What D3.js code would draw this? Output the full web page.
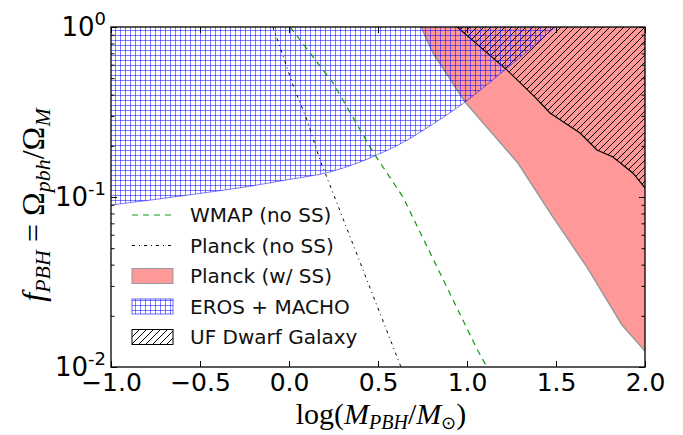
<!DOCTYPE html>
<html><head><meta charset="utf-8">
<script src="https://cdn.jsdelivr.net/npm/d3@7"></script>
<style>body{margin:0;background:#fff}</style>
</head><body>
<svg id="c" width="683" height="435"></svg>
<script>
// ---------- data ----------
const xTickValues = [-1.0, -0.5, 0.0, 0.5, 1.0, 1.5, 2.0];
const xTickLabels = ["\u22121.0", "\u22120.5", "0.0", "0.5", "1.0", "1.5", "2.0"];
const yTickValues = [1, 0.1, 0.01];
const yTickExponents = ["0", "-1", "-2"];
const yMinorTicks = [0.02,0.03,0.04,0.05,0.06,0.07,0.08,0.09,0.2,0.3,0.4,0.5,0.6,0.7,0.8,0.9];

// EROS + MACHO lower boundary
const erosX = [-1.0, -0.753, -0.5, -0.247, 0.0, 0.230, 0.371, 0.494, 0.624, 0.792, 0.989, 1.185, 1.354, 1.494];
const erosF = [0.0897, 0.0967, 0.105, 0.1145, 0.1268, 0.1403, 0.1564, 0.1767, 0.2050, 0.2617, 0.3622, 0.5292, 0.7425, 1.0];
// Planck (w/ SS) lower boundary
const planckSSX = [0.742, 0.809, 0.989, 1.287, 1.483, 1.674, 1.871, 2.0];
const planckSSF = [1.0, 0.703, 0.362, 0.158, 0.0762, 0.0387, 0.01766, 0.0124];
// UF Dwarf Galaxy lower boundary
const ufX = [0.945, 1.225, 1.382, 1.466, 1.635, 1.730, 1.820, 1.933, 2.0];
const ufF = [1.0, 0.558, 0.387, 0.312, 0.238, 0.189, 0.172, 0.138, 0.113];
// WMAP (no SS)
const wmapX = [0.006, 0.247, 0.472, 0.64, 1.056, 1.112];
const wmapF = [1.0, 0.469, 0.184, 0.100, 0.01277, 0.01];
// Planck (no SS)
const planckX = [-0.09, -0.039, 0.022, 0.101, 0.174, 0.247, 0.416, 0.629];
const planckF = [1.0, 0.703, 0.456, 0.284, 0.165, 0.1057, 0.0372, 0.01];

const legendLabels = ["WMAP (no SS)", "Planck (no SS)", "Planck (w/ SS)", "EROS + MACHO", "UF Dwarf Galaxy"];

// ---------- setup ----------
const svg = d3.select("#c");
const L = 111, R = 645, T = 27, B = 367;
const x = d3.scaleLinear().domain([-1, 2]).range([L, R]);
const y = d3.scaleLog().domain([0.01, 1]).range([B, T]);
const zip = (xs, fs) => xs.map((v, i) => [v, fs[i]]);

const defs = svg.append("defs");
defs.append("clipPath").attr("id", "clip").append("rect")
  .attr("x", L).attr("y", T).attr("width", R - L).attr("height", B - T);
const grid = defs.append("pattern").attr("id", "grid").attr("patternUnits", "userSpaceOnUse")
  .attr("width", 5).attr("height", 5);
grid.append("path").attr("d", "M0,0.5H5M0.5,0V5").attr("stroke", "blue")
  .attr("stroke-opacity", 0.5).attr("stroke-width", 1).attr("fill", "none");
const hatch = defs.append("pattern").attr("id", "hatch").attr("patternUnits", "userSpaceOnUse")
  .attr("width", 7).attr("height", 7);
hatch.append("path").attr("d", "M-1,1l2,-2M0,7l7,-7M6,8l2,-2").attr("stroke", "#000")
  .attr("stroke-width", 1).attr("fill", "none");

const line = d3.line().x(d => x(d[0])).y(d => y(d[1]));

const plot = svg.append("g").attr("clip-path", "url(#clip)");

// Planck w/ SS region
const redPts = zip(planckSSX, planckSSF);
plot.append("path").attr("d", line(redPts) + `L${x(2)},${y(1)}Z`)
  .attr("fill", "#ff9999").attr("stroke", "none");
plot.append("path").attr("d", line(redPts)).attr("fill", "none")
  .attr("stroke", "#999").attr("stroke-width", 1.5);

// UF Dwarf region
const ufPts = zip(ufX, ufF);
plot.append("path").attr("d", line(ufPts) + `L${x(2)},${y(1)}Z`)
  .attr("fill", "url(#hatch)").attr("stroke", "none");
plot.append("path").attr("d", line(ufPts)).attr("fill", "none")
  .attr("stroke", "#000").attr("stroke-width", 1.2);

// EROS region
const erosPts = zip(erosX, erosF);
const erosLine = d3.line().x(d => x(d[0])).y(d => y(d[1])).curve(d3.curveMonotoneX);
plot.append("path").attr("d", erosLine(erosPts) + `L${x(-1)},${y(1)}Z`)
  .attr("fill", "url(#grid)").attr("stroke", "none");
plot.append("path").attr("d", erosLine(erosPts)).attr("fill", "none")
  .attr("stroke", "blue").attr("stroke-opacity", 0.5).attr("stroke-width", 1);

// lines
plot.append("path").attr("d", line(zip(wmapX, wmapF))).attr("fill", "none")
  .attr("stroke", "#119911").attr("stroke-width", 1.2).attr("stroke-dasharray", "6,5");
plot.append("path").attr("d", line(zip(planckX, planckF))).attr("fill", "none")
  .attr("stroke", "#000").attr("stroke-width", 1).attr("stroke-dasharray", "3,4,1,4");

// ---------- axes ----------
const tickStyle = g => { g.select(".domain").remove(); g.selectAll("line").attr("stroke", "#000").attr("stroke-width", 1); };
svg.append("g").attr("transform", `translate(0,${B})`)
  .call(d3.axisBottom(x).tickValues(xTickValues).tickFormat((d, i) => xTickLabels[i])
    .tickSizeInner(-6).tickSizeOuter(0).tickPadding(6))
  .call(tickStyle)
  .call(g => g.selectAll("text").attr("font-family", "DejaVu Sans").attr("font-size", 25).attr("fill", "#000"));
svg.append("g").attr("transform", `translate(0,${T})`)
  .call(d3.axisTop(x).tickValues(xTickValues).tickFormat("").tickSizeInner(-6).tickSizeOuter(0))
  .call(tickStyle);
svg.append("g").attr("transform", `translate(${L},0)`)
  .call(d3.axisLeft(y).tickValues(yTickValues).tickFormat("").tickSizeInner(-6).tickSizeOuter(0))
  .call(tickStyle);
svg.append("g").attr("transform", `translate(${L},0)`)
  .call(d3.axisLeft(y).tickValues(yMinorTicks).tickFormat("").tickSizeInner(-3.5).tickSizeOuter(0))
  .call(tickStyle);
svg.append("g").attr("transform", `translate(${R},0)`)
  .call(d3.axisRight(y).tickValues(yTickValues).tickFormat("").tickSizeInner(-6).tickSizeOuter(0))
  .call(tickStyle);
svg.append("g").attr("transform", `translate(${R},0)`)
  .call(d3.axisRight(y).tickValues(yMinorTicks).tickFormat("").tickSizeInner(-3.5).tickSizeOuter(0))
  .call(tickStyle);

// y tick labels 10^n
yTickValues.forEach((v, i) => {
  const t = svg.append("text").attr("x", 106).attr("y", y(v) + 9)
    .attr("text-anchor", "end").attr("font-family", "DejaVu Sans").attr("font-size", 26).attr("fill", "#000");
  t.append("tspan").text("10");
  t.append("tspan").attr("font-size", 18).attr("dy", -11).text(yTickExponents[i]);
});

// frame
svg.append("rect").attr("x", L).attr("y", T).attr("width", R - L).attr("height", B - T)
  .attr("fill", "none").attr("stroke", "#000").attr("stroke-width", 1.3);

// ---------- axis labels ----------
const xl = svg.append("text").attr("x", 381).attr("y", 424).attr("text-anchor", "middle")
  .attr("font-family", "Liberation Serif").attr("font-size", 30).attr("fill", "#000");
xl.append("tspan").text("log(");
xl.append("tspan").attr("font-style", "italic").text("M");
xl.append("tspan").attr("font-style", "italic").attr("font-size", 20).attr("dy", 5).text("PBH");
xl.append("tspan").attr("dy", -5).text("/");
xl.append("tspan").attr("font-style", "italic").text("M");
xl.append("tspan").attr("font-size", 18).attr("dy", 5).text("\u2299");
xl.append("tspan").attr("dy", -5).text(")");

const yl = svg.append("text").attr("transform", "translate(44,205) rotate(-90)").attr("text-anchor", "middle")
  .attr("font-family", "Liberation Serif").attr("font-size", 32).attr("fill", "#000");
yl.append("tspan").attr("font-style", "italic").text("f");
yl.append("tspan").attr("font-style", "italic").attr("font-size", 22).attr("dy", 6).text("PBH");
yl.append("tspan").attr("dy", -6).text(" = \u03A9");
yl.append("tspan").attr("font-style", "italic").attr("font-size", 22).attr("dy", 6).text("pbh");
yl.append("tspan").attr("dy", -6).text("/\u03A9");
yl.append("tspan").attr("font-style", "italic").attr("font-size", 22).attr("dy", 6).text("M");

// ---------- legend ----------
const lg = svg.append("g");
const ly0 = 215, ldy = 30.5, hx0 = 132, hx1 = 173, tx = 190;
legendLabels.forEach((lab, i) => {
  const cy = ly0 + i * ldy;
  if (i === 0) lg.append("line").attr("x1", hx0).attr("x2", hx1).attr("y1", cy).attr("y2", cy)
    .attr("stroke", "#119911").attr("stroke-width", 1.2).attr("stroke-dasharray", "6,5");
  if (i === 1) lg.append("line").attr("x1", hx0).attr("x2", hx1).attr("y1", cy).attr("y2", cy)
    .attr("stroke", "#000").attr("stroke-width", 1).attr("stroke-dasharray", "3,4,1,4");
  if (i >= 2) {
    const fills = ["#ff9999", "url(#grid)", "url(#hatch)"];
    const strokes = ["#999", "rgba(0,0,255,0.6)", "#000"];
    lg.append("rect").attr("x", hx0).attr("y", cy - 7.5).attr("width", hx1 - hx0).attr("height", 15)
      .attr("fill", fills[i - 2]).attr("stroke", strokes[i - 2]).attr("stroke-width", 1);
  }
  lg.append("text").attr("x", tx).attr("y", cy).attr("dy", "0.36em")
    .attr("font-family", "DejaVu Sans").attr("font-size", 20).attr("fill", "#111").text(lab);
});
</script>
</body></html>
